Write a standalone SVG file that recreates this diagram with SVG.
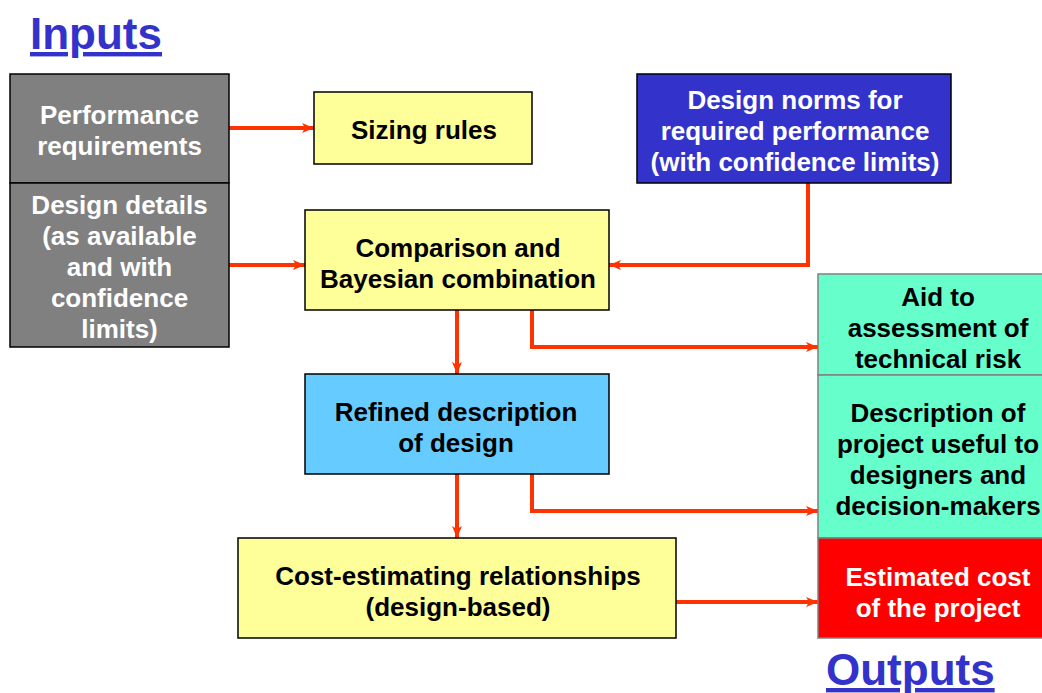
<svg xmlns="http://www.w3.org/2000/svg" width="1042" height="693" viewBox="0 0 1042 693">
<defs>
<marker id="ah" markerUnits="userSpaceOnUse" markerWidth="12" markerHeight="10" refX="12" refY="5" orient="auto">
<path d="M0,0 L12,5 L0,10 L3,5 Z" fill="#FF3300"/>
</marker>
<style>
text{font-family:"Liberation Sans",Arial,sans-serif;font-weight:bold;font-size:26px;text-anchor:middle}
.w{fill:#ffffff}.k{fill:#000000}
.title{font-size:44px;fill:#3333CC;text-decoration:underline;text-anchor:start}
.c{fill:none;stroke:#FF3300;stroke-width:4;marker-end:url(#ah)}
.bk{stroke:#000;stroke-width:1.5}
.gr{stroke:#808080;stroke-width:1.5}
</style>
</defs>
<rect width="1042" height="693" fill="#ffffff"/>
<text class="title" x="30" y="49">Inputs</text>
<text class="title" x="826" y="685">Outputs</text>

<g id="connectors">
<path class="c" d="M229,128 H314"/>
<path class="c" d="M229,265 H305"/>
<path class="c" d="M808,183 V265 H609"/>
<path class="c" d="M457,310 V374"/>
<path class="c" d="M532,310 V347 H818"/>
<path class="c" d="M457,474 V538"/>
<path class="c" d="M532,474 V511 H818"/>
<path class="c" d="M676,602 H818"/>
</g>

<g id="perf">
<rect class="bk" x="10" y="74" width="219" height="109" fill="#808080"/>
<text class="w" x="119.5" y="124">Performance</text>
<text class="w" x="119.5" y="155">requirements</text>
</g>
<g id="details">
<rect class="bk" x="10" y="183" width="219" height="164" fill="#808080"/>
<text class="w" x="119.5" y="214">Design details</text>
<text class="w" x="119.5" y="245">(as available</text>
<text class="w" x="119.5" y="276">and with</text>
<text class="w" x="119.5" y="307">confidence</text>
<text class="w" x="119.5" y="338">limits)</text>
</g>
<g id="sizing">
<rect class="bk" x="314" y="92" width="218" height="72" fill="#FFFF99"/>
<text class="k" x="424" y="139">Sizing rules</text>
</g>
<g id="norms">
<rect class="bk" x="637" y="74" width="314" height="109" fill="#3333CC"/>
<text class="w" x="795" y="109">Design norms for</text>
<text class="w" x="795" y="140">required performance</text>
<text class="w" x="795" y="171">(with confidence limits)</text>
</g>
<g id="comparison">
<rect class="bk" x="305" y="210" width="304" height="100" fill="#FFFF99"/>
<text class="k" x="458" y="257">Comparison and</text>
<text class="k" x="458" y="288">Bayesian combination</text>
</g>
<g id="refined">
<rect class="bk" x="305" y="374" width="304" height="100" fill="#66CCFF"/>
<text class="k" x="456" y="421">Refined description</text>
<text class="k" x="456" y="452">of design</text>
</g>
<g id="cer">
<rect class="bk" x="238" y="538" width="438" height="100" fill="#FFFF99"/>
<text class="k" x="458" y="585">Cost-estimating relationships</text>
<text class="k" x="458" y="616">(design-based)</text>
</g>
<g id="aid">
<rect class="gr" x="818" y="274" width="240" height="101" fill="#66FFCC"/>
<text class="k" x="938" y="306">Aid to</text>
<text class="k" x="938" y="337">assessment of</text>
<text class="k" x="938" y="368">technical risk</text>
</g>
<g id="desc">
<rect class="gr" x="818" y="375" width="240" height="163" fill="#66FFCC"/>
<text class="k" x="938" y="422">Description of</text>
<text class="k" x="938" y="453">project useful to</text>
<text class="k" x="938" y="484">designers and</text>
<text class="k" x="938" y="515">decision-makers</text>
</g>
<g id="cost">
<rect class="gr" x="818" y="538" width="240" height="100" fill="#FF0000"/>
<text class="w" x="938" y="586">Estimated cost</text>
<text class="w" x="938" y="617">of the project</text>
</g>
</svg>
